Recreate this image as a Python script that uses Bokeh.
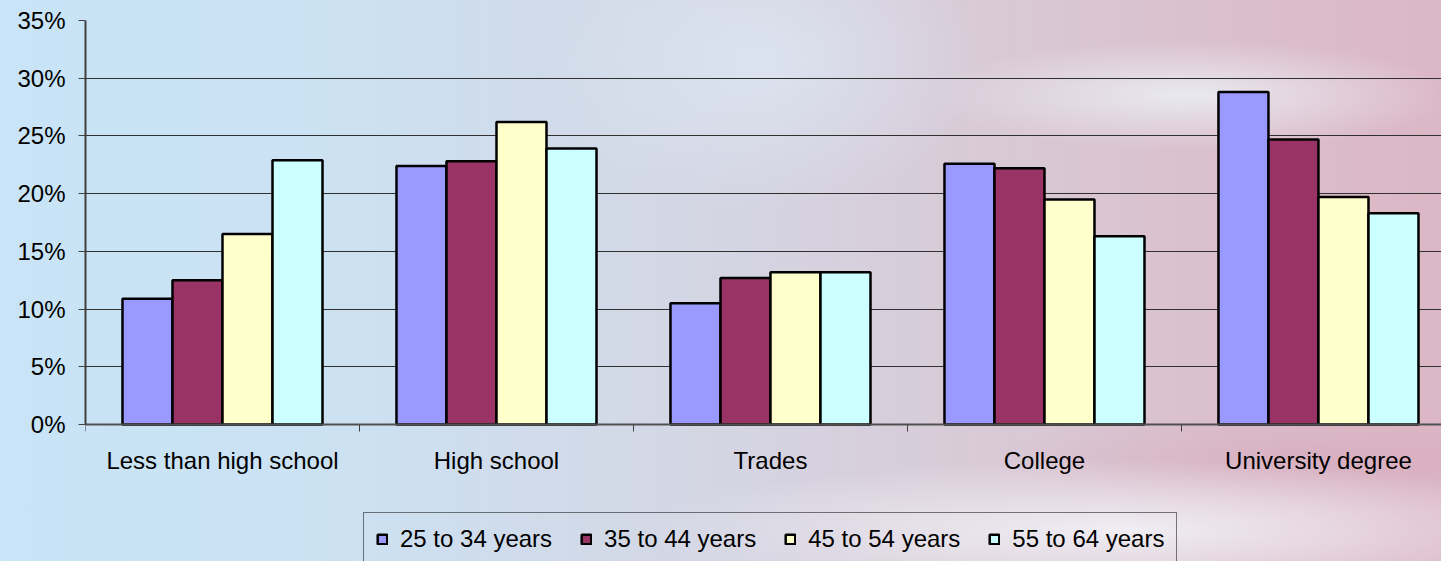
from bokeh.plotting import figure
from bokeh.models import (ColumnDataSource, Range1d, FixedTicker, PrintfTickFormatter,
                          Legend, LegendItem, LinearAxis)
from bokeh.transform import dodge
from bokeh.embed import file_html
from bokeh.resources import INLINE

# ---- data ----
categories = ["Less than high school", "High school", "Trades", "College", "University degree"]
age_groups = ["25 to 34 years", "35 to 44 years", "45 to 54 years", "55 to 64 years"]
v25_34 = [10.9, 22.4, 10.5, 22.6, 28.8]
v35_44 = [12.5, 22.8, 12.7, 22.2, 24.7]
v45_54 = [16.5, 26.2, 13.2, 19.5, 19.7]
v55_64 = [22.9, 23.9, 13.2, 16.3, 18.3]
series = [v25_34, v35_44, v45_54, v55_64]
colors = ["#9999FF", "#993366", "#FFFFCC", "#CCFFFF"]
y_ticks = [0, 5, 10, 15, 20, 25, 30, 35]

FONT = "Liberation Sans"
W, H = 1441, 561

centers = [i + 0.5 for i in range(len(categories))]
data = {"x": centers}
for name, vals in zip(age_groups, series):
    data[name] = vals
source = ColumnDataSource(data)

# frame: top at 20px (35%), 0% at 424px, frame runs to the bottom edge
p = figure(width=W, height=H, output_backend="svg", toolbar_location=None,
           x_range=Range1d(0, 4.949), y_range=Range1d(-11.87, 35),
           x_axis_location=None,
           min_border_left=85, min_border_right=0, min_border_top=20,
           min_border_bottom=0)

p.background_fill_alpha = 0
p.border_fill_alpha = 0
p.outline_line_color = None
p.styles = {
    "background-image": (
        "radial-gradient(ellipse 260px 55px at 1190px 95px, rgba(236,243,250,0.8), rgba(236,243,250,0) 100%),"
        "radial-gradient(ellipse 220px 150px at 760px 60px, rgba(222,234,246,0.7), rgba(222,234,246,0) 100%),"
        "radial-gradient(ellipse 480px 70px at 1120px 530px, rgba(242,242,247,0.9), rgba(242,242,247,0) 100%),"
        "radial-gradient(ellipse 320px 50px at 1320px 460px, rgba(214,168,186,0.6), rgba(214,168,186,0) 100%),"
        "linear-gradient(90deg, #c8e4f6 0%, #cbe2f3 22%, #d3d8e6 45%, #d8ccd9 65%, #dbbfcc 85%, #dcb7c5 100%)"
    )
}

bw = 0.1825
renderers = []
for i, (name, col) in enumerate(zip(age_groups, colors)):
    r = p.vbar(x=dodge("x", (i - 1.5) * bw, range=p.x_range), top=name, width=bw,
               bottom=0, source=source, fill_color=col, line_color="#000000",
               line_width=2.5)
    renderers.append(r)

# y axis
p.yaxis.ticker = FixedTicker(ticks=y_ticks)
p.yaxis.bounds = (0, 35)
p.yaxis.formatter = PrintfTickFormatter(format="%d%%")
p.yaxis.major_label_text_font = FONT
p.yaxis.major_label_text_font_size = "24px"
p.yaxis.major_label_text_color = "#000000"
p.yaxis.major_tick_out = 7
p.yaxis.major_tick_in = 0
p.yaxis.minor_tick_out = 0
p.yaxis.minor_tick_in = 0
p.yaxis.major_label_standoff = 13
p.yaxis.axis_line_color = "#404040"
p.yaxis.axis_line_width = 2
p.yaxis.major_tick_line_color = "#404040"
p.yaxis.major_tick_line_width = 1

# x axis, fixed at 0%
xaxis = LinearAxis(fixed_location=0)
xaxis.ticker = FixedTicker(ticks=centers, minor_ticks=list(range(len(categories) + 1)))
xaxis.major_label_overrides = {c: lab for c, lab in zip(centers, categories)}
xaxis.major_label_text_font = FONT
xaxis.major_label_text_font_size = "24px"
xaxis.major_label_text_color = "#000000"
xaxis.major_tick_out = 0
xaxis.major_tick_in = 0
xaxis.minor_tick_out = 7
xaxis.minor_tick_in = 0
xaxis.minor_tick_line_color = "#404040"
xaxis.major_label_standoff = 16
xaxis.axis_line_color = "#505050"
xaxis.axis_line_width = 2
p.add_layout(xaxis, "below")

p.xgrid.grid_line_color = None
p.ygrid.ticker = FixedTicker(ticks=y_ticks)
p.ygrid.grid_line_color = "#303030"
p.ygrid.grid_line_width = 1

legend = Legend(
    items=[LegendItem(label=n, renderers=[r]) for n, r in zip(age_groups, renderers)],
    orientation="horizontal", location=(278, -5),
    label_text_font=FONT, label_text_font_size="24px", label_text_color="#000000",
    glyph_width=12, glyph_height=12, label_standoff=12, spacing=28, padding=12,
    margin=0, border_line_color="#000000", border_line_width=1,
    background_fill_alpha=0,
)
p.add_layout(legend, "center")

open("out.html", "w").write(file_html(p, INLINE))
